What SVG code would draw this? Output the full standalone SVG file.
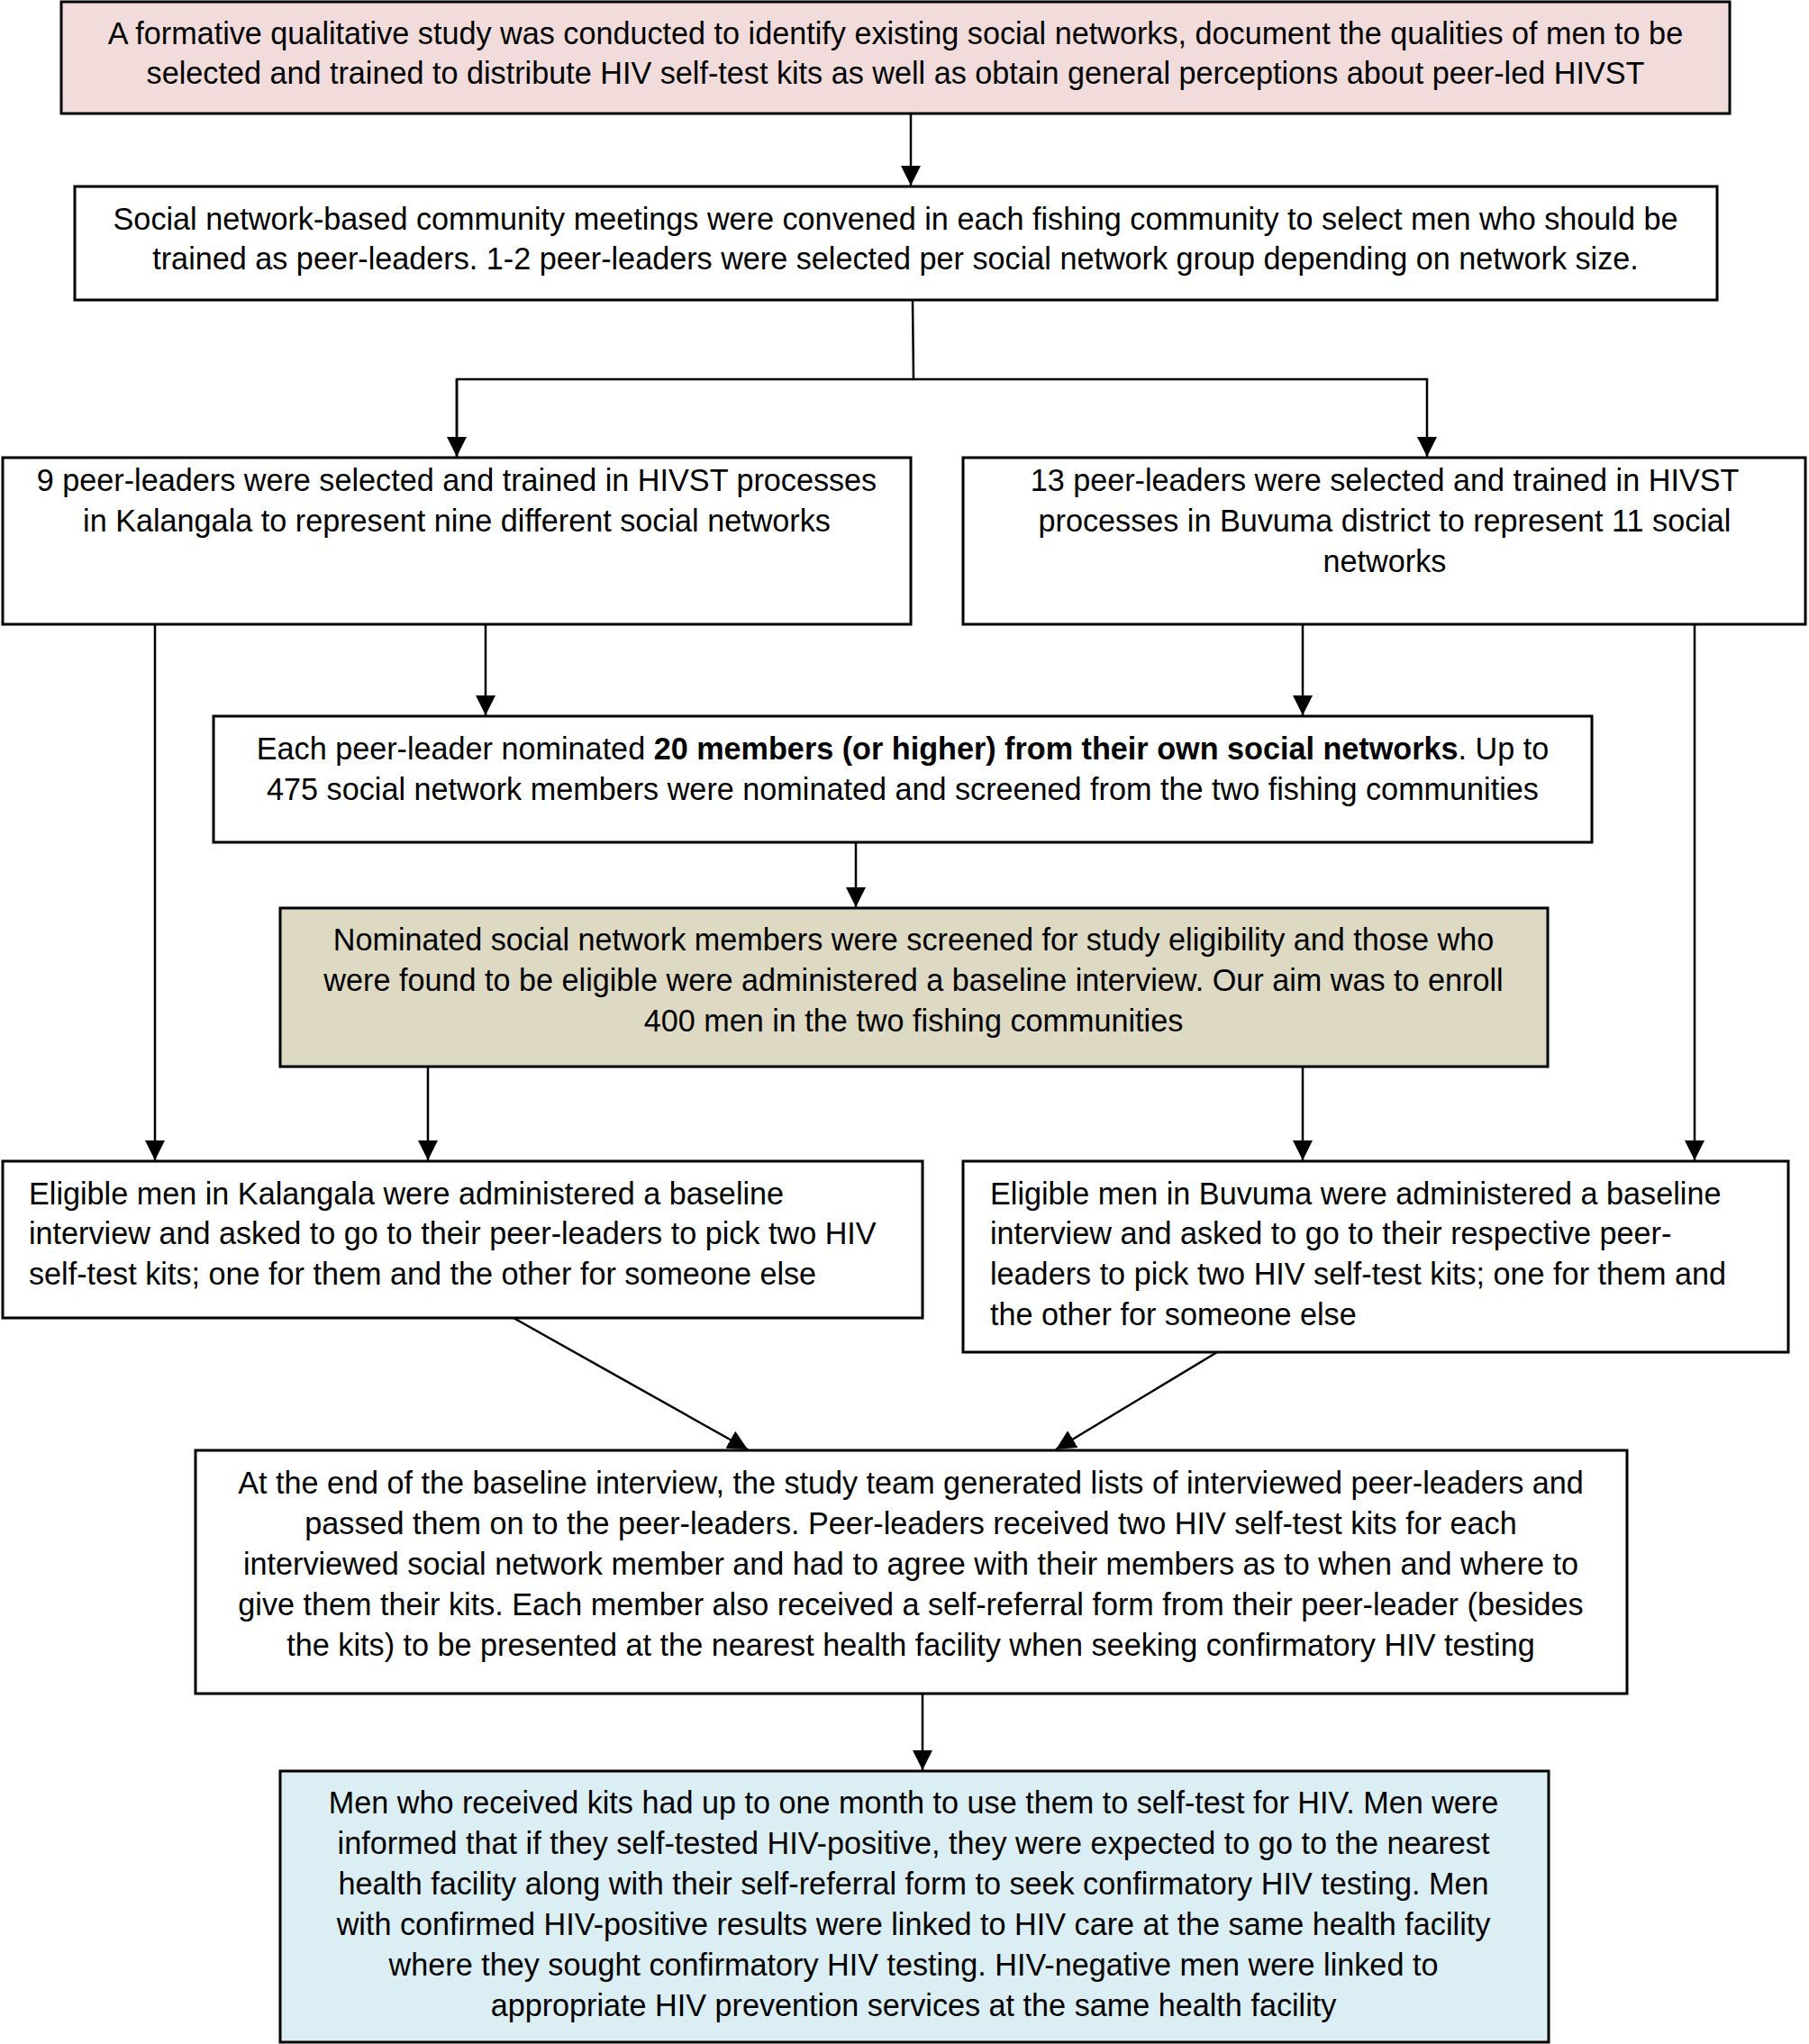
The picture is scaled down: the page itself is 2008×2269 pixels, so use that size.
<svg xmlns="http://www.w3.org/2000/svg" width="2008" height="2269" viewBox="0 0 2008 2269">
<style>
.box{stroke:#000;stroke-width:3}
.w{fill:#fff}
.pink{fill:#f2dcdb}
.tan{fill:#ddd9c3}
.blue{fill:#dbeef3}
text{font-family:"Liberation Sans",Arial,sans-serif;font-size:34.2px;fill:#000}
.c{text-anchor:middle}
.conn{stroke:#000;stroke-width:2.5;fill:none}
</style>
<defs>
<marker id="arr" markerUnits="userSpaceOnUse" markerWidth="22" markerHeight="22" refX="22" refY="11" orient="auto" viewBox="0 0 22 22">
<path d="M0,0 L22,11 L0,22 z" fill="#000"/>
</marker>
</defs>
<rect width="2008" height="2269" fill="#fff"/>
<g id="connectors">
<line class="conn" x1="1011" y1="126" x2="1011" y2="206" marker-end="url(#arr)"/>
<polyline class="conn" points="1013,333 1014,421"/>
<polyline class="conn" points="507,507 507,421 1584,421 1584,507" marker-end="url(#arr)"/>
<line class="conn" x1="507" y1="421" x2="507" y2="507" marker-end="url(#arr)"/>
<line class="conn" x1="539" y1="693" x2="539" y2="794" marker-end="url(#arr)"/>
<line class="conn" x1="1446" y1="693" x2="1446" y2="794" marker-end="url(#arr)"/>
<line class="conn" x1="950" y1="935" x2="950" y2="1007" marker-end="url(#arr)"/>
<line class="conn" x1="172" y1="693" x2="172" y2="1288" marker-end="url(#arr)"/>
<line class="conn" x1="1881" y1="693" x2="1881" y2="1288" marker-end="url(#arr)"/>
<line class="conn" x1="475" y1="1184" x2="475" y2="1288" marker-end="url(#arr)"/>
<line class="conn" x1="1446" y1="1184" x2="1446" y2="1288" marker-end="url(#arr)"/>
<line class="conn" x1="570" y1="1463" x2="830" y2="1609" marker-end="url(#arr)"/>
<line class="conn" x1="1351" y1="1501" x2="1172" y2="1609" marker-end="url(#arr)"/>
<line class="conn" x1="1024" y1="1880" x2="1024" y2="1965" marker-end="url(#arr)"/>
</g>
<g id="n1">
<rect class="box pink" x="68" y="2" width="1852" height="124"/>
<text class="c" x="994" y="49">A formative qualitative study was conducted to identify existing social networks, document the qualities of men to be</text>
<text class="c" x="994" y="93">selected and trained to distribute HIV self-test kits as well as obtain general perceptions about peer-led HIVST</text>
</g>
<g id="n2">
<rect class="box w" x="83" y="207" width="1823" height="126"/>
<text class="c" x="994" y="255">Social network-based community meetings were convened in each fishing community to select men who should be</text>
<text class="c" x="994" y="299">trained as peer-leaders. 1-2 peer-leaders were selected per social network group depending on network size.</text>
</g>
<g id="n3">
<rect class="box w" x="3" y="508" width="1008" height="185"/>
<text class="c" x="507" y="545">9 peer-leaders were selected and trained in HIVST processes</text>
<text class="c" x="507" y="590">in Kalangala to represent nine different social networks</text>
</g>
<g id="n4">
<rect class="box w" x="1069" y="508" width="935" height="185"/>
<text class="c" x="1537" y="545">13 peer-leaders were selected and trained in HIVST</text>
<text class="c" x="1537" y="590">processes in Buvuma district to represent 11 social</text>
<text class="c" x="1537" y="635">networks</text>
</g>
<g id="n5">
<rect class="box w" x="237" y="795" width="1530" height="140"/>
<text class="c" x="1002" y="843">Each peer-leader nominated <tspan font-weight="bold">20 members (or higher) from their own social networks</tspan>. Up to</text>
<text class="c" x="1002" y="888">475 social network members were nominated and screened from the two fishing communities</text>
</g>
<g id="n6">
<rect class="box tan" x="311" y="1008" width="1407" height="176"/>
<text class="c" x="1014" y="1055">Nominated social network members were screened for study eligibility and those who</text>
<text class="c" x="1014" y="1100">were found to be eligible were administered a baseline interview. Our aim was to enroll</text>
<text class="c" x="1014" y="1145">400 men in the two fishing communities</text>
</g>
<g id="n7">
<rect class="box w" x="3" y="1289" width="1021" height="174"/>
<text x="32" y="1337">Eligible men in Kalangala were administered a baseline</text>
<text x="32" y="1381">interview and asked to go to their peer-leaders to pick two HIV</text>
<text x="32" y="1426">self-test kits; one for them and the other for someone else</text>
</g>
<g id="n8">
<rect class="box w" x="1069" y="1289" width="916" height="212"/>
<text x="1099" y="1337">Eligible men in Buvuma were administered a baseline</text>
<text x="1099" y="1381">interview and asked to go to their respective peer-</text>
<text x="1099" y="1426">leaders to pick two HIV self-test kits; one for them and</text>
<text x="1099" y="1471">the other for someone else</text>
</g>
<g id="n9">
<rect class="box w" x="217" y="1610" width="1589" height="270"/>
<text class="c" x="1011" y="1658">At the end of the baseline interview, the study team generated lists of interviewed peer-leaders and</text>
<text class="c" x="1011" y="1703">passed them on to the peer-leaders. Peer-leaders received two HIV self-test kits for each</text>
<text class="c" x="1011" y="1748">interviewed social network member and had to agree with their members as to when and where to</text>
<text class="c" x="1011" y="1793">give them their kits. Each member also received a self-referral form from their peer-leader (besides</text>
<text class="c" x="1011" y="1838">the kits) to be presented at the nearest health facility when seeking confirmatory HIV testing</text>
</g>
<g id="n10">
<rect class="box blue" x="311" y="1966" width="1408" height="301"/>
<text class="c" x="1014" y="2013">Men who received kits had up to one month to use them to self-test for HIV. Men were</text>
<text class="c" x="1014" y="2058">informed that if they self-tested HIV-positive, they were expected to go to the nearest</text>
<text class="c" x="1014" y="2103">health facility along with their self-referral form to seek confirmatory HIV testing. Men</text>
<text class="c" x="1014" y="2148">with confirmed HIV-positive results were linked to HIV care at the same health facility</text>
<text class="c" x="1014" y="2193">where they sought confirmatory HIV testing. HIV-negative men were linked to</text>
<text class="c" x="1014" y="2238">appropriate HIV prevention services at the same health facility</text>
</g>
</svg>
